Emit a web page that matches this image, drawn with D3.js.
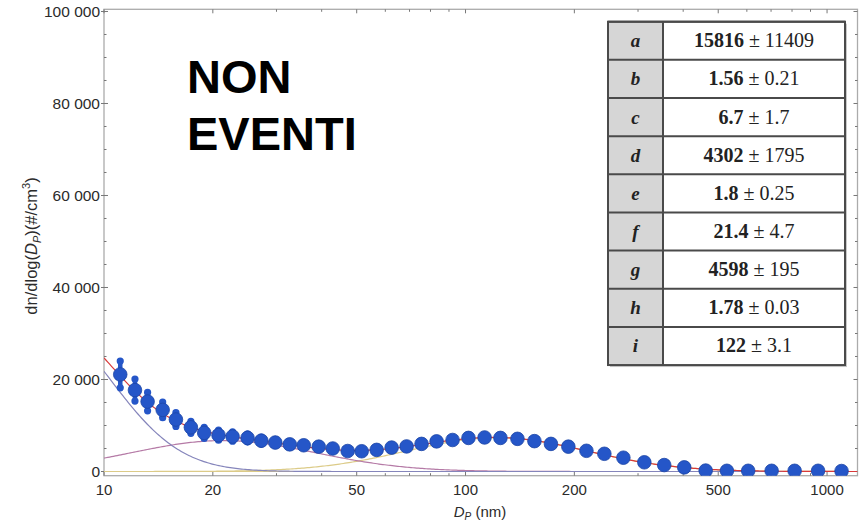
<!DOCTYPE html>
<html>
<head>
<meta charset="utf-8">
<script src="https://cdn.jsdelivr.net/npm/d3@7"></script>
<style>
  body { margin: 0; background: #fff; }
  svg { display: block; }
</style>
</head>
<body>
<svg id="chart" width="862" height="521"></svg>
<script>
// Measured particle size distribution (mobility diameter in nm)
const diameters = [11.09, 12.18, 13.20, 14.53, 15.81, 17.39, 18.93, 20.74, 22.68, 24.95,
  27.23, 29.77, 32.64, 35.68, 39.26, 42.92, 47.21, 51.61, 56.78, 62.46,
  68.71, 75.57, 83.17, 92.07, 101.9, 112.9, 124.9, 139.2, 155.1, 172.3,
  192.5, 216.0, 242.1, 273.3, 312.3, 354.5, 402.7, 461.6, 528.4, 605.1,
  702.6, 813.4, 944.4, 1096.7];
// dn/dlog(Dp) in #/cm3
const counts = [21100, 17700, 15200, 13400, 11300, 9600, 8400, 7900, 7600, 7300,
  6700, 6300, 5900, 5700, 5400, 5000, 4450, 4400, 4700, 5200,
  5450, 6000, 6550, 6850, 7300, 7400, 7300, 7100, 6600, 6000,
  5400, 4500, 3850, 3000, 2000, 1400, 900, 200, 150, 150,
  150, 150, 150, 100];
const errors = [2900, 2400, 2000, 1700, 1500, 1300, 1200, 1100, 1000, 900,
  800, 700, 600, 600, 500, 500, 500, 400, 400, 400,
  400, 400, 400, 400, 400, 400, 400, 400, 400, 400,
  300, 300, 300, 300, 300, 200, 200, 200, 100, 100,
  100, 100, 100, 100];

// Fit parameters of the three lognormal modes (amplitude, sigma, median)
const paramNames = ["a", "b", "c", "d", "e", "f", "g", "h", "i"];
const paramValues = ["15816", "1.56", "6.7", "4302", "1.8", "21.4", "4598", "1.78", "122"];
const paramErrors = ["11409", "0.21", "1.7", "1795", "0.25", "4.7", "195", "0.03", "3.1"];

const xTicks = [10, 20, 50, 100, 200, 500, 1000];
const xMinorTicks = [30, 40, 60, 70, 80, 90, 300, 400, 600, 700, 800, 900];
const yTicks = [0, 20000, 40000, 60000, 80000, 100000];
const yMinorTicks = d3.range(5000, 100001, 5000).filter(v => v % 20000 !== 0);

const modeColors = ["#8585bb", "#b57aa6", "#dccb88"];
const totalColor = "#d83a3a";
const pointColor = "#2556c8";

const svg = d3.select("#chart");
const frame = { left: 104, right: 857.5, top: 9.3, bottom: 475.7 };

const x = d3.scaleLog().domain([10, 1214]).range([frame.left, frame.right]);
const y = d3.scaleLinear().domain([-913, 100478]).range([frame.bottom, frame.top]);

// lognormal mode in dn/dlogDp form (base-10 logs)
const modes = [0, 1, 2].map(k => ({
  A: +paramValues[3 * k], s: +paramValues[3 * k + 1], m: +paramValues[3 * k + 2]
}));
function lognormal(D, p) {
  const ls = Math.log10(p.s);
  const z = Math.log10(D / p.m) / ls;
  return p.A / (Math.sqrt(2 * Math.PI) * ls) * Math.exp(-0.5 * z * z);
}
const grid = d3.range(0, 401).map(i => 10 * Math.pow(1214 / 10, i / 400));

svg.append("defs").append("clipPath").attr("id", "plotClip")
  .append("rect")
  .attr("x", frame.left).attr("y", frame.top)
  .attr("width", frame.right - frame.left).attr("height", frame.bottom - frame.top);

// frame
svg.append("rect")
  .attr("x", frame.left).attr("y", frame.top)
  .attr("width", frame.right - frame.left).attr("height", frame.bottom - frame.top)
  .attr("fill", "none").attr("stroke", "#ababab").attr("stroke-width", 1.3);

// ticks
const tickG = svg.append("g").attr("stroke", "#777").attr("stroke-width", 1);
xTicks.forEach(v => {
  tickG.append("line").attr("x1", x(v)).attr("x2", x(v)).attr("y1", frame.bottom).attr("y2", frame.bottom - 4);
  tickG.append("line").attr("x1", x(v)).attr("x2", x(v)).attr("y1", frame.top).attr("y2", frame.top + 4);
});
xMinorTicks.forEach(v => {
  tickG.append("line").attr("x1", x(v)).attr("x2", x(v)).attr("y1", frame.bottom).attr("y2", frame.bottom - 2.5);
  tickG.append("line").attr("x1", x(v)).attr("x2", x(v)).attr("y1", frame.top).attr("y2", frame.top + 2.5);
});
yTicks.forEach(v => {
  tickG.append("line").attr("x1", frame.left - 3).attr("x2", frame.left + 4).attr("y1", y(v)).attr("y2", y(v));
  tickG.append("line").attr("x1", frame.right).attr("x2", frame.right - 4).attr("y1", y(v)).attr("y2", y(v));
});
yMinorTicks.forEach(v => {
  tickG.append("line").attr("x1", frame.left).attr("x2", frame.left + 2.5).attr("y1", y(v)).attr("y2", y(v));
  tickG.append("line").attr("x1", frame.right).attr("x2", frame.right - 2.5).attr("y1", y(v)).attr("y2", y(v));
});

// tick labels
const labelFont = "'Liberation Sans', Arial, sans-serif";
svg.append("g").selectAll("text").data(xTicks).join("text")
  .attr("x", d => x(d)).attr("y", 494.5)
  .attr("text-anchor", "middle")
  .attr("font-family", labelFont).attr("font-size", 15).attr("fill", "#2b2b2b")
  .text(d => d);
svg.append("g").selectAll("text").data(yTicks).join("text")
  .attr("x", 100).attr("y", d => y(d) + 5.4)
  .attr("text-anchor", "end")
  .attr("font-family", labelFont).attr("font-size", 15.5).attr("fill", "#2b2b2b")
  .text(d => d === 0 ? "0" : d3.format(",")(d).replace(",", " "));

// axis titles
const xt = svg.append("text")
  .attr("x", 480).attr("y", 517)
  .attr("text-anchor", "middle")
  .attr("font-family", labelFont).attr("font-size", 15).attr("fill", "#2b2b2b");
xt.append("tspan").attr("font-style", "italic").text("D");
xt.append("tspan").attr("font-style", "italic").attr("font-size", 10).attr("dy", 3).text("P");
xt.append("tspan").attr("dy", -3).text(" (nm)");

const yt = svg.append("text")
  .attr("transform", "translate(37,246) rotate(-90)")
  .attr("text-anchor", "middle")
  .attr("font-family", labelFont).attr("font-size", 16.5).attr("fill", "#2b2b2b");
yt.append("tspan").text("dn/dlog(");
yt.append("tspan").attr("font-style", "italic").text("D");
yt.append("tspan").attr("font-style", "italic").attr("font-size", 11).attr("dy", 3.5).text("P");
yt.append("tspan").attr("dy", -3.5).text(")(#/cm");
yt.append("tspan").attr("font-size", 11).attr("dy", -7).text("3");
yt.append("tspan").attr("dy", 7).text(")");

// fitted curves
const plot = svg.append("g").attr("clip-path", "url(#plotClip)");
const line = d3.line().x(d => x(d[0])).y(d => y(d[1]));

// baseline
plot.append("line")
  .attr("x1", frame.left).attr("x2", frame.right)
  .attr("y1", y(0)).attr("y2", y(0))
  .attr("stroke", modeColors[2]).attr("stroke-width", 1.2);

[2, 1, 0].forEach(k => {
  plot.append("path")
    .datum(grid.map(D => [D, lognormal(D, modes[k])]))
    .attr("d", line)
    .attr("fill", "none").attr("stroke", modeColors[k]).attr("stroke-width", 1.2);
});
plot.append("path")
  .datum(grid.map(D => [D, d3.sum(modes, p => lognormal(D, p))]))
  .attr("d", line)
  .attr("fill", "none").attr("stroke", totalColor).attr("stroke-width", 1.2);

// measured points with error bars
const pts = diameters.map((D, i) => ({ D, v: counts[i], e: errors[i] }));
const pg = plot.append("g").attr("fill", pointColor);
pg.selectAll("line.err").data(pts).join("line").attr("class", "err")
  .attr("x1", d => x(d.D)).attr("x2", d => x(d.D))
  .attr("y1", d => y(d.v - d.e)).attr("y2", d => y(d.v + d.e))
  .attr("stroke", pointColor).attr("stroke-width", 4.5).attr("stroke-linecap", "round");
pg.selectAll("circle.capTop").data(pts).join("circle").attr("class", "capTop")
  .attr("cx", d => x(d.D)).attr("cy", d => y(d.v + d.e)).attr("r", 3.6);
pg.selectAll("circle.capBot").data(pts).join("circle").attr("class", "capBot")
  .attr("cx", d => x(d.D)).attr("cy", d => y(d.v - d.e)).attr("r", 3.6);
pg.selectAll("circle.pt").data(pts).join("circle").attr("class", "pt")
  .attr("cx", d => x(d.D)).attr("cy", d => y(d.v)).attr("r", 6.8)
  .attr("stroke", "#1c45a6").attr("stroke-width", 0.8);

// heading
const head = svg.append("text")
  .attr("font-family", labelFont).attr("font-weight", "bold")
  .attr("font-size", 47).attr("fill", "#000");
head.append("tspan").attr("x", 187).attr("y", 93).text("NON");
head.append("tspan").attr("x", 187).attr("y", 150).text("EVENTI");

// parameter table
const tbl = { left: 608, mid: 663, right: 845, top: 21.7, rowH: 38.15 };
const rows = paramNames.map((n, i) => ({ n, v: paramValues[i], e: paramErrors[i], i }));
const tg = svg.append("g");
const tblBottom = tbl.top + tbl.rowH * rows.length;
tg.append("rect")
  .attr("x", tbl.left + 2).attr("y", tbl.top + 2)
  .attr("width", tbl.right - tbl.left).attr("height", tblBottom - tbl.top)
  .attr("fill", "#c9c9c9");
tg.append("rect")
  .attr("x", tbl.left).attr("y", tbl.top)
  .attr("width", tbl.right - tbl.left).attr("height", tblBottom - tbl.top)
  .attr("fill", "#fff");
tg.append("rect")
  .attr("x", tbl.left).attr("y", tbl.top)
  .attr("width", tbl.mid - tbl.left).attr("height", tblBottom - tbl.top)
  .attr("fill", "#d6d6d6");
rows.forEach(r => {
  tg.append("line")
    .attr("x1", tbl.left).attr("x2", tbl.right)
    .attr("y1", tbl.top + r.i * tbl.rowH).attr("y2", tbl.top + r.i * tbl.rowH)
    .attr("stroke", "#4a4a4a").attr("stroke-width", 2);
});
tg.append("rect")
  .attr("x", tbl.left).attr("y", tbl.top)
  .attr("width", tbl.right - tbl.left).attr("height", tblBottom - tbl.top)
  .attr("fill", "none").attr("stroke", "#4a4a4a").attr("stroke-width", 2);
tg.append("line")
  .attr("x1", tbl.mid).attr("x2", tbl.mid).attr("y1", tbl.top).attr("y2", tblBottom)
  .attr("stroke", "#4a4a4a").attr("stroke-width", 2);

const serif = "'Liberation Serif', 'Times New Roman', serif";
tg.selectAll("text.name").data(rows).join("text").attr("class", "name")
  .attr("x", (tbl.left + tbl.mid) / 2).attr("y", d => tbl.top + (d.i + 0.5) * tbl.rowH + 6.5)
  .attr("text-anchor", "middle")
  .attr("font-family", serif).attr("font-size", 19).attr("font-weight", "bold")
  .attr("font-style", "italic").attr("fill", "#222")
  .text(d => d.n);
const vt = tg.selectAll("text.val").data(rows).join("text").attr("class", "val")
  .attr("x", (tbl.mid + tbl.right) / 2).attr("y", d => tbl.top + (d.i + 0.5) * tbl.rowH + 6.5)
  .attr("text-anchor", "middle")
  .attr("font-family", serif).attr("font-size", 20).attr("fill", "#222");
vt.append("tspan").attr("font-weight", "bold").text(d => d.v);
vt.append("tspan").text(d => " \u00b1 " + d.e);
</script>
</body>
</html>
